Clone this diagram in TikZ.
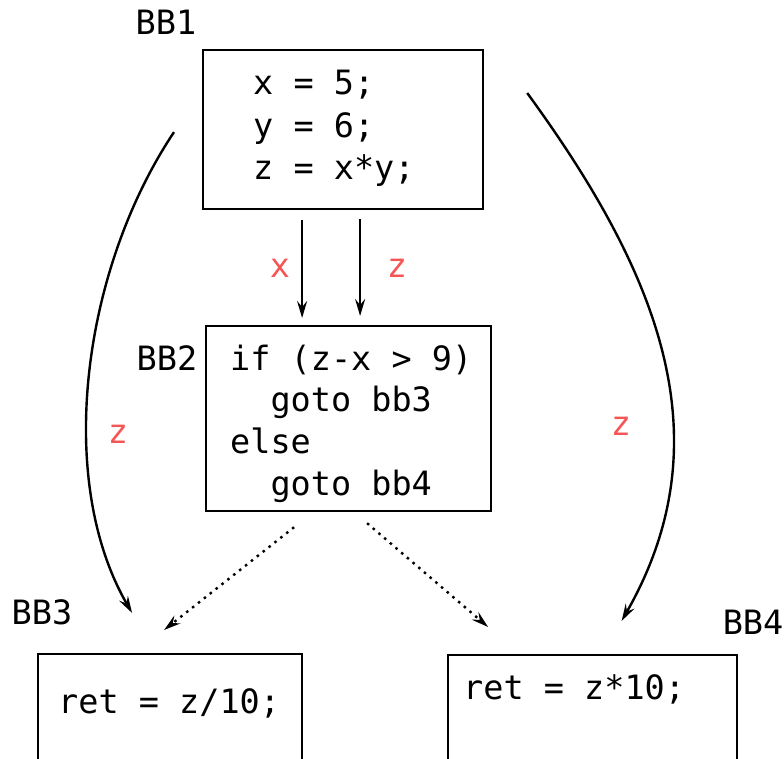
\documentclass[tikz,border=0pt]{standalone}
\usepackage{fontspec}
\setmainfont{DejaVu Sans Mono}
\usetikzlibrary{arrows.meta,calc}
\definecolor{lblred}{RGB}{245,85,85}
\tikzset{
  codefont/.style={font=\fontsize{33.5}{42}\selectfont},
  box/.style={draw, line width=2.2pt, inner sep=0pt, anchor=north west},
  codeline/.style={codefont, inner sep=0pt, anchor=base west},
  bblabel/.style={codefont, inner sep=0pt},
  varlabel/.style={codefont, inner sep=0pt, text=lblred},
  arr/.style={line width=2.4pt, -{Stealth[length=17pt,width=10pt,inset=6pt]}},
  dotarr/.style={arr, dash pattern=on 2.5pt off 5pt},
}
\begin{document}
\begin{tikzpicture}[x=1pt,y=-1pt]
\useasboundingbox (0,0) rectangle (784,759);
\clip (0,0) rectangle (784,759);
% boxes
\node[box, minimum width=280pt, minimum height=159pt] (bb1) at (202,49) {};
\node[box, minimum width=285pt, minimum height=185pt] (bb2) at (205,325) {};
\node[box, minimum width=264pt, minimum height=140pt] (bb3) at (37,653) {};
\node[box, minimum width=289pt, minimum height=140pt] (bb4) at (447,654) {};
% code
\node[codeline] (l11) at (253,95) {x = 5;};
\node[codeline] (l12) at (253,137.5) {y = 6;};
\node[codeline] (l13) at (253,180) {z = x*y;};
\node[codeline] (l21) at (230,370) {if (z-x > 9)};
\node[codeline] (l22) at (230,411.5) {\phantom{gg}goto bb3};
\node[codeline] (l23) at (230,453) {else};
\node[codeline] (l24) at (230,495) {\phantom{gg}goto bb4};
\node[codeline] (l31) at (58,713) {ret = z/10;};
\node[codeline] (l41) at (463,699) {ret = z*10;};
% block labels
\node[bblabel] (n1) at (166,22) {BB1};
\node[bblabel] (n2) at (167,358) {BB2};
\node[bblabel] (n3) at (42,612) {BB3};
\node[bblabel] (n4) at (753,622) {BB4};
% variable labels
\node[varlabel] (vx) at (280,268) {x};
\node[varlabel] (vz) at (397,268) {z};
\node[varlabel] (vzl) at (118,434) {z};
\node[varlabel] (vzr) at (621,426) {z};
% straight arrows
\draw[arr, shorten <=10pt, shorten >=7pt] ($(bb1.south)+(-41,0)$) -- ($(bb2.north)+(-46.5,0)$);
\draw[arr, shorten <=9pt, shorten >=9pt] ($(bb1.south)+(17,0)$) -- ($(bb2.north)+(11.5,0)$);
% curved arrows
\coordinate (cls) at ($(bb1.west)+(-28,2.5)$);
\coordinate (cle) at ($(bb3.north)+(-38,-40)$);
\draw[arr] (cls) .. controls (82,270) and (55,480) .. (cle);
\coordinate (crs) at ($(bb1.north east)+(43,44)$);
\coordinate (cre) at ($(bb4.north)+(29,-33)$);
\draw[arr] (crs) .. controls (660,275) and (725,440) .. (cre);
% dotted arrows
\coordinate (dls) at ($(bb2.south)+(-54.5,15)$);
\coordinate (dle) at ($(bb3.north)+(-6,-23)$);
\draw[dotarr] (dls) -- (dle);
\coordinate (drs) at ($(bb2.south)+(18.5,11)$);
\coordinate (dre) at ($(bb4.north)+(-104.5,-27)$);
\draw[dotarr] (drs) -- (dre);
\end{tikzpicture}
\end{document}
